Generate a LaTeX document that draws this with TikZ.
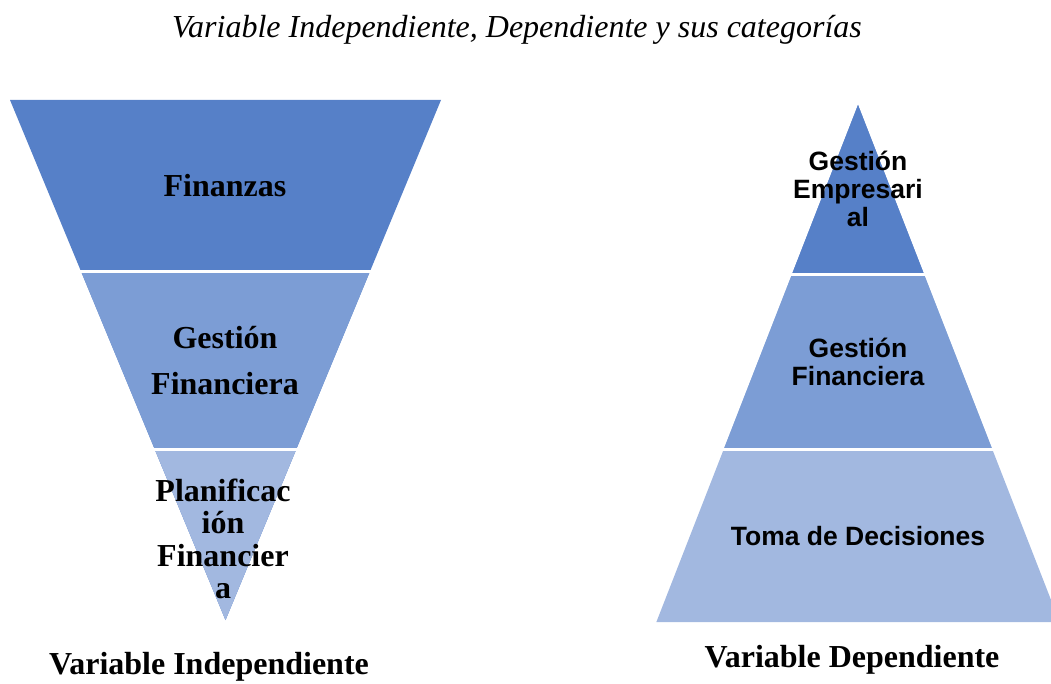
\documentclass[tikz,border=0pt]{standalone}
\usepackage{fontspec}
\setmainfont{Liberation Serif}
\newfontfamily\arialf{Liberation Sans}
\definecolor{bandA}{RGB}{86,128,200}
\definecolor{bandB}{RGB}{124,157,213}
\definecolor{bandC}{RGB}{162,184,224}
\tikzset{
  serifbold/.style={font=\fontsize{32}{32}\selectfont\bfseries, align=center, inner sep=0pt},
  sansbold/.style={font=\arialf\fontsize{26.5}{28}\selectfont\bfseries, align=center, inner sep=0pt},
  gapline/.style={draw=white, line width=3pt},
}
\begin{document}
\begin{tikzpicture}[x=1pt,y=-1pt]
\useasboundingbox (0,0) rectangle (1051,684);
\clip (0,0) rectangle (1051,684);
% title
\node[font=\fontsize{32}{32}\selectfont\itshape, inner sep=0pt] (title) at (517,30) {Variable Independiente, Dependiente y sus categorías};
% left inverted triangle: top y=100 x 10..441, apex (225.5,620)
\fill[bandA] (10,100) -- (441,100) -- (225.5,620) -- cycle;
\fill[bandB] ({10+0.4144*172},272) -- ({441-0.4144*172},272) -- (225.5,620) -- cycle;
\fill[bandC] ({10+0.4144*349},449) -- ({441-0.4144*349},449) -- (225.5,620) -- cycle;
\draw[gapline] (60,272) -- (390,272);
\draw[gapline] (130,449) -- (320,449);
% right pyramid: apex (858,105), base y=622, slope 0.39
\fill[bandC] (858,105) -- ({858+0.39*517},622) -- ({858-0.39*517},622) -- cycle;
\fill[bandB] (858,105) -- ({858+0.39*344.5},449.5) -- ({858-0.39*344.5},449.5) -- cycle;
\fill[bandA] (858,105) -- ({858+0.39*169.5},274.5) -- ({858-0.39*169.5},274.5) -- cycle;
\draw[gapline] (700,274.5) -- (1010,274.5);
\draw[gapline] (700,449.5) -- (1051,449.5);
% left texts
\node[serifbold] (fin) at (225,186) {Finanzas};
\node[serifbold, font=\fontsize{32}{46}\selectfont\bfseries] (gf) at (225,361) {Gestión\\Financiera};
\node[serifbold, font=\fontsize{32}{32.5}\selectfont\bfseries] (pf) at (223,539) {Planificac\\ión\\Financier\\a};
% right texts
\node[sansbold] (ge) at (858,189) {Gestión\\Empresari\\al};
\node[sansbold] (gf2) at (858,362) {Gestión\\Financiera};
\node[sansbold] (td) at (858,536) {Toma de Decisiones};
% bottom labels
\node[font=\fontsize{32}{32}\selectfont\bfseries, inner sep=0pt] (vi) at (209,667) {Variable Independiente};
\node[font=\fontsize{32}{32}\selectfont\bfseries, inner sep=0pt] (vd) at (852,660) {Variable Dependiente};
\end{tikzpicture}
\end{document}
